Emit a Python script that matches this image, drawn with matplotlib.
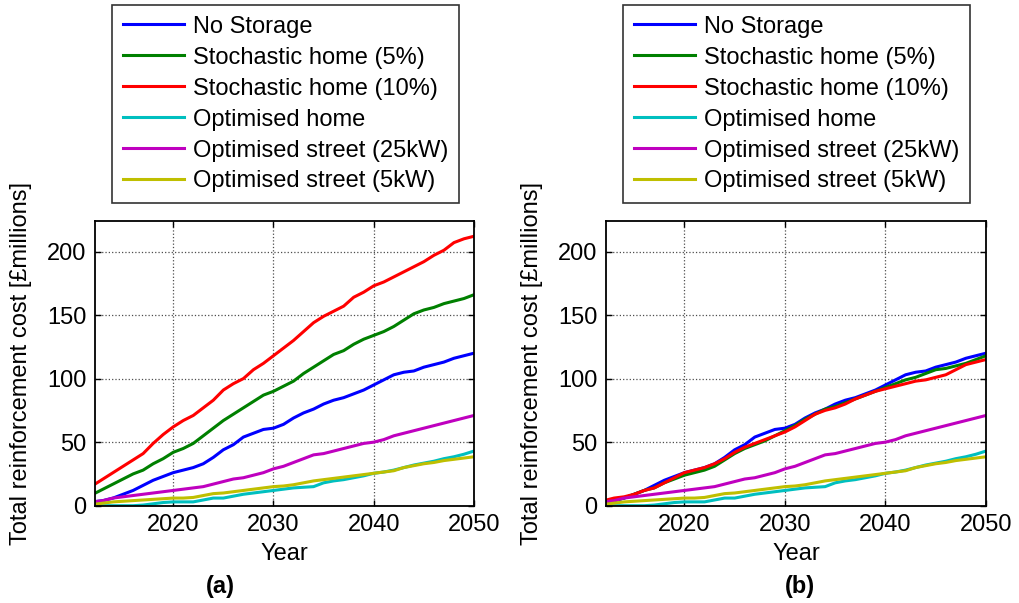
import matplotlib
matplotlib.use("Agg")
import matplotlib.pyplot as plt
from matplotlib import font_manager

names = {f.name for f in font_manager.fontManager.ttflist}
narrow = "Liberation Sans Narrow" if "Liberation Sans Narrow" in names else "Liberation Sans"
plt.rcParams['font.family'] = ['Liberation Sans', 'DejaVu Sans']

years = list(range(2012, 2051))

no_storage = [3, 4, 6, 9, 12, 16, 20, 23, 26, 28, 30, 33, 38, 44, 48, 54, 57, 60, 61, 64,
              69, 73, 76, 80, 83, 85, 88, 91, 95, 99, 103, 105, 106, 109, 111, 113, 116, 118, 120]
stoch5_a = [9, 13, 17, 21, 25, 28, 33, 37, 42, 45, 49, 55, 61, 67, 72, 77, 82, 87, 90, 94,
            98, 104, 109, 114, 119, 122, 127, 131, 134, 137, 141, 146, 151, 154, 156, 159, 161, 163, 166]
stoch10_a = [16, 21, 26, 31, 36, 41, 49, 56, 62, 67, 71, 77, 83, 91, 96, 100, 107, 112, 118, 124,
             130, 137, 144, 149, 153, 157, 164, 168, 173, 176, 180, 184, 188, 192, 197, 201, 207, 210, 212]
stoch5_b = [3, 4, 6, 9, 12, 14, 18, 21, 24, 26, 28, 31, 36, 41, 45, 48, 51, 55, 59, 63,
            68, 72, 76, 78, 81, 84, 87, 90, 93, 96, 99, 101, 104, 107, 108, 110, 112, 115, 118]
stoch10_b = [4, 6, 7, 9, 12, 14, 18, 22, 26, 28, 30, 33, 37, 42, 46, 49, 52, 55, 58, 62,
             67, 72, 75, 77, 80, 84, 87, 90, 92, 94, 96, 98, 99, 101, 103, 107, 111, 113, 115]
opt_home = [0, 0, 0, 0, 0, 0.5, 1.5, 2.5, 3, 3, 3, 4.5, 6, 6, 7.5, 9, 10, 11, 12, 13,
            14, 14.5, 15, 18, 19.5, 20.5, 22, 23.5, 25.5, 26.5, 28, 30, 32, 33.5, 35, 37, 38.5, 40.5, 43]
opt_street25 = [3, 4, 6, 7, 8, 9, 10, 11, 12, 13, 14, 15, 17, 19, 21, 22, 24, 26, 29, 31,
                34, 37, 40, 41, 43, 45, 47, 49, 50, 52, 55, 57, 59, 61, 63, 65, 67, 69, 71]
opt_street5 = [1, 2, 3, 3.5, 4, 4.5, 5, 5.5, 6, 6, 6.5, 8, 9.5, 10, 11, 12, 13, 14, 15, 15.5,
               16.5, 18, 19.5, 20.5, 21.5, 22.5, 23.5, 24.5, 25.5, 26.5, 27.5, 30, 31.5, 33, 34, 35.5, 36.5, 37.5, 38.5]

labels = ["No Storage", "Stochastic home (5%)", "Stochastic home (10%)",
          "Optimised home", "Optimised street (25kW)", "Optimised street (5kW)"]
colors = ["#0000ff", "#008000", "#ff0000", "#00bfbf", "#bf00bf", "#bfbf00"]
xticks = [2020, 2030, 2040, 2050]
yticks = [0, 50, 100, 150, 200]

panels = [
    ([no_storage, stoch5_a, stoch10_a, opt_home, opt_street25, opt_street5], "(a)"),
    ([no_storage, stoch5_b, stoch10_b, opt_home, opt_street25, opt_street5], "(b)"),
]

fig = plt.figure(figsize=(10.2, 6.03), dpi=100)
W, H = 1020, 603
ax_px = [(95, 474), (606, 986)]
leg_px = [112, 623]
tag_px = [220, 800]
top, bot = 221, 505.7
FS = 17

for (series, tag), (x0, x1), lx, tx in zip(panels, ax_px, leg_px, tag_px):
    ax = fig.add_axes([x0 / W, 1 - bot / H, (x1 - x0) / W, (bot - top) / H])
    for s, lab, c in zip(series, labels, colors):
        ax.plot(years, s, color=c, lw=2.2, label=lab)
    ax.set_xlim(2012.2, 2050)
    ax.set_ylim(0, 224)
    ax.set_xticks(xticks)
    ax.set_yticks(yticks)
    ax.grid(True, linestyle=':', color='0.3', linewidth=0.9)
    ax.tick_params(direction='in', top=True, right=True, length=4, width=1,
                   labelsize=FS, pad=6)
    for lbl in ax.get_xticklabels():
        lbl.set_family([narrow, 'DejaVu Sans'])
    for sp in ax.spines.values():
        sp.set_linewidth(1.3)
    ax.set_ylabel("Total reinforcement cost [£millions]", fontsize=FS, labelpad=11)
    ax.set_xlabel("Year", fontsize=FS, family=[narrow, 'DejaVu Sans'], labelpad=5)
    fig.text(tx / W, 1 - 587 / H, tag, ha='center', va='center', fontsize=FS,
             fontweight='bold', family=[narrow, 'DejaVu Sans'])
    leg = ax.legend(loc='upper left', bbox_to_anchor=(lx / W, 1 - 5 / H),
                    bbox_transform=fig.transFigure, fontsize=FS, frameon=True,
                    fancybox=False, edgecolor='black', handlelength=2.6,
                    handletextpad=0.4, labelspacing=0.38, borderpad=0.45,
                    borderaxespad=0)
    leg.get_frame().set_linewidth(1.2)
    for ln in leg.get_lines():
        ln.set_linewidth(2.2)

fig.savefig("out.png", dpi=100)
